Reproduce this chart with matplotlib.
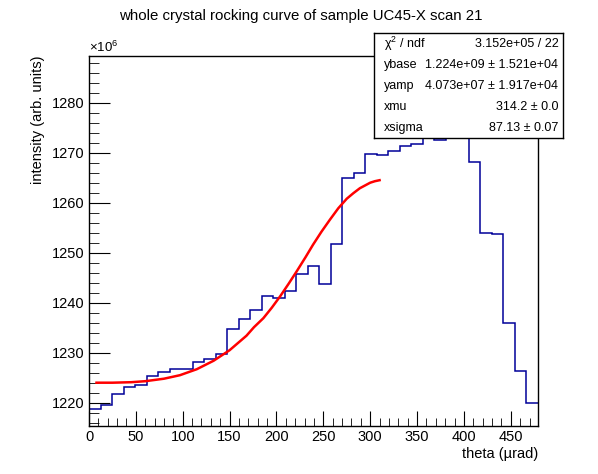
import numpy as np
import matplotlib
matplotlib.use('Agg')
import matplotlib.pyplot as plt
from matplotlib.ticker import MultipleLocator

plt.rcParams['font.family'] = ['Liberation Sans', 'DejaVu Sans']
plt.rcParams['mathtext.fontset'] = 'custom'
plt.rcParams['mathtext.rm'] = 'Liberation Sans'
plt.rcParams['mathtext.it'] = 'Liberation Sans:italic'

# histogram (units of 1e6), 39 bins over theta
theta_lo = 0.0
theta_hi = 479.0
counts = [1218.7, 1219.5, 1221.7, 1223.1, 1223.5, 1225.3, 1226.1, 1226.7, 1226.7, 1228.1,
          1228.7, 1229.7, 1234.7, 1236.7, 1238.5, 1241.3, 1240.9, 1242.3, 1245.7, 1247.3,
          1243.7, 1251.7, 1264.9, 1265.9, 1269.8, 1269.5, 1270.3, 1271.4, 1271.7, 1276.0,
          1272.5, 1281.0, 1285.9, 1268.1, 1253.9, 1253.7, 1235.9, 1226.4, 1219.9]

# fitted curve
fit_theta = [8, 25, 45, 60, 80, 97, 115, 133, 150, 168, 176, 186, 195, 204, 213, 222, 231,
             239, 248, 257, 266, 275, 282, 289, 295, 300, 305, 310]
fit_val = [1224.0, 1224.0, 1224.1, 1224.3, 1224.8, 1225.5, 1226.7, 1228.4, 1230.5, 1233.4,
           1235.1, 1236.9, 1239.0, 1241.3, 1243.8, 1246.4, 1249.1, 1251.6, 1254.2, 1256.6,
           1258.9, 1260.8, 1261.9, 1262.9, 1263.5, 1264.0, 1264.3, 1264.5]

stats_names = ['χ$^{2}$ / ndf', 'ybase', 'yamp', 'xmu', 'xsigma']
stats_values = ['3.152e+05 / 22', '1.224e+09 ± 1.521e+04', '4.073e+07 ± 1.917e+04',
                '314.2 ± 0.0', '87.13 ± 0.07']

W, H = 598, 474
fig = plt.figure(figsize=(W / 100, H / 100), dpi=100)
ax = fig.add_axes([89 / W, 1 - 426 / H, (538 - 89) / W, (426 - 56) / H])

edges = np.linspace(theta_lo, theta_hi, len(counts) + 1)
ax.stairs(counts, edges, baseline=None, color='#000099', lw=1.1)
ax.plot(fit_theta, fit_val, color='red', lw=1.8)

ax.set_xlim(theta_lo, theta_hi)
ax.set_ylim(1215.34, 1289.34)
ax.xaxis.set_major_locator(MultipleLocator(50))
ax.xaxis.set_minor_locator(MultipleLocator(10))
ax.yaxis.set_major_locator(MultipleLocator(10))
ax.yaxis.set_minor_locator(MultipleLocator(2))
ax.tick_params(which='both', direction='in', top=False, right=False, labelsize=10.5)
ax.tick_params(axis='x', which='major', length=11, pad=3)
ax.tick_params(axis='x', which='minor', length=5.5)
ax.tick_params(axis='y', which='major', length=15, pad=3)
ax.tick_params(axis='y', which='minor', length=7.5)
for s in ax.spines.values():
    s.set_linewidth(1)

ax.set_xlabel('theta (µrad)', loc='right', fontsize=10.5)
ax.xaxis.set_label_coords(1.0, -0.056)
ax.set_ylabel('intensity (arb. units)', loc='top', fontsize=10.5)
ax.yaxis.set_label_coords(-0.097, 1.0)
ax.text(0, 1.004, '×10$^{6}$', transform=ax.transAxes, ha='left', va='bottom', fontsize=9.5)

fig.text(0.503, 1 - 15.7 / H, 'whole crystal rocking curve of sample UC45-X scan 21',
         ha='center', va='center', fontsize=10.8)

# stats box
sb = fig.add_axes([374 / W, 1 - 138.3 / H, (563.3 - 374) / W, (138.3 - 33.3) / H])
sb.set_xticks([])
sb.set_yticks([])
sb.set_facecolor('white')
for s in sb.spines.values():
    s.set_linewidth(1)
for i, (n, v) in enumerate(zip(stats_names, stats_values)):
    yy = 0.9 - 0.2 * i
    sb.text(0.053, yy, n, ha='left', va='center', fontsize=9, transform=sb.transAxes)
    sb.text(0.974, yy, v, ha='right', va='center', fontsize=9, transform=sb.transAxes)

fig.savefig('out.png', dpi=100)
